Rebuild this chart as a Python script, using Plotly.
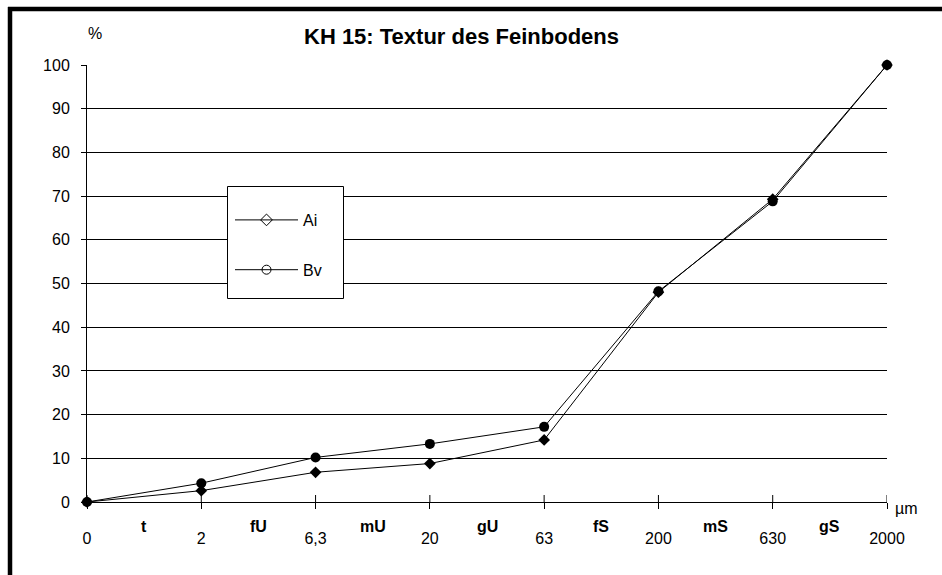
import plotly.graph_objects as go

# Data
categories = ["0", "2", "6,3", "20", "63", "200", "630", "2000"]
classes = ["t", "fU", "mU", "gU", "fS", "mS", "gS"]
ai_values = [0, 2.6, 6.8, 8.8, 14.2, 48.0, 69.3, 100]
bv_values = [0, 4.3, 10.2, 13.3, 17.2, 48.2, 68.8, 100]
y_ticks = list(range(0, 101, 10))

W, H = 942, 575
L, T = 87, 65
R = W - 887
B = H - 502
pw, ph = W - L - R, H - T - B

def px_x(p):  # window pixel -> paper x
    return (p - L) / pw

def px_y(p):  # window pixel -> paper y
    return (H - B - p) / ph

FONT = "Liberation Sans, Arial, sans-serif"
xs = list(range(len(categories)))

fig = go.Figure()
fig.add_trace(go.Scatter(
    x=xs, y=ai_values, mode="lines+markers", name="Ai", showlegend=False,
    cliponaxis=False,
    line=dict(color="black", width=1),
    marker=dict(symbol="diamond", size=9, color="black"),
))
fig.add_trace(go.Scatter(
    x=xs, y=bv_values, mode="lines+markers", name="Bv", showlegend=False,
    cliponaxis=False,
    line=dict(color="black", width=1),
    marker=dict(symbol="circle", size=10, color="black"),
))
# legend entries (hollow symbols as in the reference)
fig.add_trace(go.Scatter(
    x=[None], y=[None], mode="lines+markers", name="Ai", legendgroup="a",
    line=dict(color="black", width=1),
    marker=dict(symbol="diamond-open", size=9, color="black", line=dict(width=1)),
))
fig.add_trace(go.Scatter(
    x=[None], y=[None], mode="lines+markers", name="Bv", legendgroup="b",
    line=dict(color="black", width=1),
    marker=dict(symbol="circle-open", size=9, color="black", line=dict(width=1)),
))

shapes = []
# upper half of crossing x ticks
for i in xs:
    shapes.append(dict(type="line", xref="x", yref="paper", x0=i, x1=i,
                       y0=0, y1=7 / ph, line=dict(color="black", width=1)))
# legend box
shapes.append(dict(type="rect", xref="paper", yref="paper", layer="above",
                   x0=px_x(227.5), x1=px_x(343.5), y0=px_y(186.5), y1=px_y(298.5),
                   fillcolor="white", line=dict(color="black", width=1)))
# outer frame (left and top edges; right and bottom lie outside the window)
shapes.append(dict(type="line", xref="paper", yref="paper",
                   x0=px_x(10), x1=px_x(10), y0=px_y(7), y1=px_y(H),
                   line=dict(color="black", width=4.5)))
shapes.append(dict(type="line", xref="paper", yref="paper",
                   x0=px_x(8), x1=px_x(W), y0=px_y(9), y1=px_y(9),
                   line=dict(color="black", width=4.5)))

annotations = []
for i, c in enumerate(classes):
    annotations.append(dict(x=i + 0.5, xref="x", y=px_y(526), yref="paper",
                            text=c, showarrow=False, yanchor="middle",
                            font=dict(family=FONT, size=16, color="black", weight="bold")))
annotations.append(dict(x=px_x(893), xref="paper", y=px_y(508), yref="paper",
                        text="µm", showarrow=False, xanchor="left", yanchor="middle",
                        font=dict(family=FONT, size=16, color="black")))
annotations.append(dict(x=px_x(86), xref="paper", y=px_y(34), yref="paper",
                        text="%", showarrow=False, yanchor="middle",
                        font=dict(family=FONT, size=16, color="black")))
annotations.append(dict(x=px_x(461), xref="paper", y=px_y(36), yref="paper",
                        text="KH 15: Textur des Feinbodens", showarrow=False,
                        yanchor="middle",
                        font=dict(family=FONT, size=22, color="black", weight="bold")))

fig.update_layout(
    width=W, height=H,
    margin=dict(l=L, r=R, t=T, b=B, pad=0),
    paper_bgcolor="white", plot_bgcolor="white",
    font=dict(family=FONT, size=16, color="black"),
    shapes=shapes, annotations=annotations,
    legend=dict(x=px_x(230), y=px_y(203), xanchor="left", yanchor="top",
                bgcolor="rgba(0,0,0,0)", borderwidth=0,
                font=dict(family=FONT, size=16, color="black"),
                itemwidth=63, tracegroupgap=26, traceorder="grouped"),
    showlegend=True,
)
fig.update_xaxes(range=[0, 7], tickvals=xs, ticktext=categories,
                 showgrid=False, zeroline=False, showline=True,
                 linecolor="black", linewidth=1,
                 ticks="outside", ticklen=6, tickcolor="black",
                 ticklabelstandoff=16,
                 tickfont=dict(family=FONT, size=16, color="black"))
fig.update_yaxes(range=[0, 100], tickvals=y_ticks,
                 showgrid=True, gridcolor="black", gridwidth=1,
                 zeroline=False, showline=True, linecolor="black", linewidth=1,
                 ticks="outside", ticklen=5, tickcolor="black",
                 ticklabelstandoff=8,
                 tickfont=dict(family=FONT, size=16, color="black"))

fig.write_html(
    "out.html",
    config={"displayModeBar": False},
    post_script="document.body.style.margin='0';document.body.style.overflow='hidden';",
)
